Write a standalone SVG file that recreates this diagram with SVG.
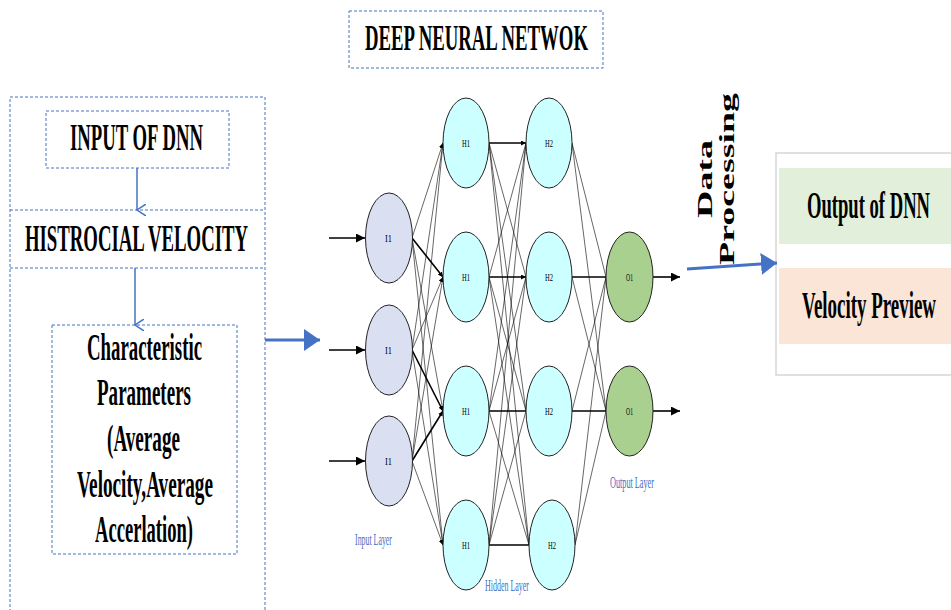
<svg xmlns="http://www.w3.org/2000/svg" width="951" height="610" viewBox="0 0 951 610">
<defs>
<style>
.dash{fill:none;stroke:#4472C4;stroke-width:1;stroke-dasharray:3 2}
.big{font-family:"Liberation Serif","Times New Roman",serif;font-weight:bold;fill:#000}
.lbl{font-family:"Liberation Serif","Times New Roman",serif;fill:#4472C4;font-size:17px}
.nl{font-family:"Liberation Serif","Times New Roman",serif;font-size:11px;fill:#000}
.inN{fill:#dae0f2;stroke:#222;stroke-width:1}
.hidN{fill:#ccffff;stroke:#222;stroke-width:1}
.outN{fill:#a9d08e;stroke:#222;stroke-width:1}
.c{stroke:#000;stroke-width:0.6;fill:none}
.ct{stroke:#000;stroke-width:1.6;fill:none}
.blue{stroke:#4472C4;stroke-width:1.5;fill:none}
</style>
<marker id="sm" viewBox="0 0 6 6" refX="6" refY="3" markerWidth="5" markerHeight="5" markerUnits="userSpaceOnUse" orient="auto"><path d="M0,0 L6,3 L0,6 z" fill="#000"/></marker>
<marker id="ar" viewBox="0 0 10 10" refX="10" refY="5" markerWidth="9" markerHeight="9" markerUnits="userSpaceOnUse" orient="auto"><path d="M0,0 L10,5 L0,10 z" fill="#000"/></marker>
<marker id="bv" viewBox="0 0 12 10" refX="6" refY="9" markerWidth="12" markerHeight="10" markerUnits="userSpaceOnUse" orient="auto-start-reverse"><path d="M0,0 L6,9 L12,0" fill="none" stroke="#4472C4" stroke-width="1.5"/></marker>
<marker id="bb" viewBox="0 0 16 22" refX="16" refY="11" markerWidth="16" markerHeight="22" markerUnits="userSpaceOnUse" orient="auto"><path d="M0,0 L16,11 L0,22 z" fill="#4472C4"/></marker>
</defs>

<g id="title">
<rect class="dash" x="349" y="11" width="254" height="57"/>
<text class="big" x="365" y="50" font-size="36" textLength="223" lengthAdjust="spacingAndGlyphs">DEEP NEURAL NETWOK</text>
</g>

<g id="left-panel">
<rect class="dash" x="10" y="97" width="255" height="520"/>
<line class="dash" x1="10" y1="210" x2="265" y2="210"/>
<line class="dash" x1="10" y1="268" x2="265" y2="268"/>
</g>

<g id="input-of-dnn">
<rect class="dash" x="46" y="111" width="183" height="57"/>
<text class="big" x="70" y="150" font-size="38" textLength="133" lengthAdjust="spacingAndGlyphs">INPUT OF DNN</text>
</g>

<g id="historical-velocity">
<text class="big" x="25" y="251" font-size="38" textLength="223" lengthAdjust="spacingAndGlyphs">HISTROCIAL VELOCITY</text>
</g>

<g id="characteristic">
<rect class="dash" x="52" y="325" width="185" height="229"/>
<text class="big" font-size="37" x="87" y="360" textLength="115" lengthAdjust="spacingAndGlyphs">Characteristic</text>
<text class="big" font-size="37" x="97" y="405" textLength="94" lengthAdjust="spacingAndGlyphs">Parameters</text>
<text class="big" font-size="37" x="107" y="451" textLength="73" lengthAdjust="spacingAndGlyphs">(Average</text>
<text class="big" font-size="37" x="77" y="497" textLength="136" lengthAdjust="spacingAndGlyphs">Velocity,Average</text>
<text class="big" font-size="37" x="95" y="542" textLength="98" lengthAdjust="spacingAndGlyphs">Accerlation)</text>
</g>

<g id="output-panel">
<rect x="776" y="153" width="185" height="222" fill="#fff" stroke="#d6d6d6" stroke-width="1.5"/>
<rect x="779" y="168" width="175" height="76" fill="#e2efda"/>
<rect x="779" y="268" width="175" height="76" fill="#fbe5d6"/>
<text class="big" x="807" y="218" font-size="38" font-weight="normal" textLength="123" lengthAdjust="spacingAndGlyphs">Output of DNN</text>
<text class="big" x="802" y="318" font-size="38" font-weight="normal" textLength="134" lengthAdjust="spacingAndGlyphs">Velocity Preview</text>
</g>

<g id="data-processing">
<text class="big" font-size="21" transform="translate(712,218) rotate(-90)" textLength="78" lengthAdjust="spacingAndGlyphs">Data</text>
<text class="big" font-size="21" transform="translate(734,265) rotate(-90)" textLength="172" lengthAdjust="spacingAndGlyphs">Processing</text>
</g>

<g id="connectors">
<line class="blue" x1="137" y1="168" x2="137" y2="210" marker-end="url(#bv)"/>
<line class="blue" x1="135" y1="268" x2="135" y2="325" marker-end="url(#bv)"/>
<line stroke="#4472C4" stroke-width="3" x1="265" y1="340" x2="320" y2="340" marker-end="url(#bb)"/>
<line stroke="#4472C4" stroke-width="3" x1="687" y1="269" x2="777" y2="263" marker-end="url(#bb)"/>

<line class="ct" x1="329" y1="238" x2="365" y2="238" marker-end="url(#ar)"/>
<line class="ct" x1="329" y1="350" x2="365" y2="350" marker-end="url(#ar)"/>
<line class="ct" x1="329" y1="461" x2="365" y2="461" marker-end="url(#ar)"/>
<line class="ct" x1="653" y1="277" x2="680" y2="277" marker-end="url(#ar)"/>
<line class="ct" x1="653" y1="411" x2="680" y2="411" marker-end="url(#ar)"/>

<line class="c" x1="412" y1="238" x2="443" y2="143" marker-end="url(#sm)"/>
<line class="ct" x1="412" y1="238" x2="443" y2="277" marker-end="url(#sm)" stroke-width="1"/>
<line class="c" x1="412" y1="238" x2="443" y2="411" marker-end="url(#sm)"/>
<line class="c" x1="412" y1="238" x2="443" y2="545" marker-end="url(#sm)"/>
<line class="c" x1="412" y1="350" x2="443" y2="143" marker-end="url(#sm)"/>
<line class="c" x1="412" y1="350" x2="443" y2="277" marker-end="url(#sm)"/>
<line class="ct" x1="412" y1="350" x2="443" y2="411" marker-end="url(#sm)" stroke-width="1"/>
<line class="c" x1="412" y1="350" x2="443" y2="545" marker-end="url(#sm)"/>
<line class="c" x1="412" y1="461" x2="443" y2="143" marker-end="url(#sm)"/>
<line class="c" x1="412" y1="461" x2="443" y2="277" marker-end="url(#sm)"/>
<line class="ct" x1="412" y1="461" x2="443" y2="411" marker-end="url(#sm)" stroke-width="1"/>
<line class="c" x1="412" y1="461" x2="443" y2="545" marker-end="url(#sm)"/>

<line class="ct" x1="489" y1="143" x2="526" y2="143" marker-end="url(#sm)"/>
<line class="c" x1="489" y1="143" x2="526" y2="277"/>
<line class="c" x1="489" y1="143" x2="526" y2="411"/>
<line class="c" x1="489" y1="143" x2="529" y2="545"/>
<line class="c" x1="489" y1="277" x2="526" y2="143"/>
<line class="ct" x1="489" y1="277" x2="526" y2="277" marker-end="url(#sm)"/>
<line class="c" x1="489" y1="277" x2="526" y2="411"/>
<line class="c" x1="489" y1="277" x2="529" y2="545"/>
<line class="c" x1="489" y1="411" x2="526" y2="143"/>
<line class="c" x1="489" y1="411" x2="526" y2="277"/>
<line class="ct" x1="489" y1="411" x2="526" y2="411"/>
<line class="c" x1="489" y1="411" x2="529" y2="545"/>
<line class="c" x1="489" y1="545" x2="526" y2="143"/>
<line class="c" x1="489" y1="545" x2="526" y2="277"/>
<line class="c" x1="489" y1="545" x2="526" y2="411"/>
<line class="ct" x1="489" y1="545" x2="529" y2="545" stroke-width="2"/>

<line class="c" x1="572" y1="143" x2="606" y2="277"/>
<line class="c" x1="572" y1="143" x2="606" y2="411"/>
<line class="ct" x1="572" y1="277" x2="606" y2="277"/>
<line class="c" x1="572" y1="277" x2="606" y2="411"/>
<line class="c" x1="572" y1="411" x2="606" y2="277"/>
<line class="ct" x1="572" y1="411" x2="606" y2="411"/>
<line class="c" x1="575" y1="545" x2="606" y2="277"/>
<line class="c" x1="575" y1="545" x2="606" y2="411"/>
</g>

<g id="input-nodes">
<ellipse class="inN" cx="389" cy="238" rx="23.5" ry="45"/>
<text class="nl" x="385" y="242" textLength="7" lengthAdjust="spacingAndGlyphs">I1</text>
<ellipse class="inN" cx="389" cy="350" rx="23.5" ry="45"/>
<text class="nl" x="385" y="354" textLength="7" lengthAdjust="spacingAndGlyphs">I1</text>
<ellipse class="inN" cx="389" cy="461" rx="23.5" ry="45"/>
<text class="nl" x="385" y="465" textLength="7" lengthAdjust="spacingAndGlyphs">I1</text>
</g>

<g id="hidden1-nodes">
<ellipse class="hidN" cx="466" cy="143" rx="23" ry="45"/>
<text class="nl" x="462" y="147" textLength="8" lengthAdjust="spacingAndGlyphs">H1</text>
<ellipse class="hidN" cx="466" cy="277" rx="23" ry="45"/>
<text class="nl" x="462" y="281" textLength="8" lengthAdjust="spacingAndGlyphs">H1</text>
<ellipse class="hidN" cx="466" cy="411" rx="23" ry="45"/>
<text class="nl" x="462" y="415" textLength="8" lengthAdjust="spacingAndGlyphs">H1</text>
<ellipse class="hidN" cx="466" cy="545" rx="23" ry="45"/>
<text class="nl" x="462" y="549" textLength="8" lengthAdjust="spacingAndGlyphs">H1</text>
</g>

<g id="hidden2-nodes">
<ellipse class="hidN" cx="549" cy="143" rx="23" ry="45"/>
<text class="nl" x="545" y="147" textLength="8" lengthAdjust="spacingAndGlyphs">H2</text>
<ellipse class="hidN" cx="549" cy="277" rx="23" ry="45"/>
<text class="nl" x="545" y="281" textLength="8" lengthAdjust="spacingAndGlyphs">H2</text>
<ellipse class="hidN" cx="549" cy="411" rx="23" ry="45"/>
<text class="nl" x="545" y="415" textLength="8" lengthAdjust="spacingAndGlyphs">H2</text>
<ellipse class="hidN" cx="552" cy="545" rx="23" ry="45"/>
<text class="nl" x="548" y="549" textLength="8" lengthAdjust="spacingAndGlyphs">H2</text>
</g>

<g id="output-nodes">
<ellipse class="outN" cx="629.5" cy="277" rx="23.5" ry="45"/>
<text class="nl" x="626" y="281" textLength="7" lengthAdjust="spacingAndGlyphs">O1</text>
<ellipse class="outN" cx="629.5" cy="411" rx="23.5" ry="45"/>
<text class="nl" x="626" y="415" textLength="7" lengthAdjust="spacingAndGlyphs">O1</text>
</g>

<g id="layer-labels">
<text class="lbl" x="355" y="545" textLength="37" lengthAdjust="spacingAndGlyphs">Input Layer</text>
<text class="lbl" x="485" y="591" textLength="44" lengthAdjust="spacingAndGlyphs">Hidden Layer</text>
<text class="lbl" x="610" y="488" textLength="44" lengthAdjust="spacingAndGlyphs">Output Layer</text>
</g>
</svg>
